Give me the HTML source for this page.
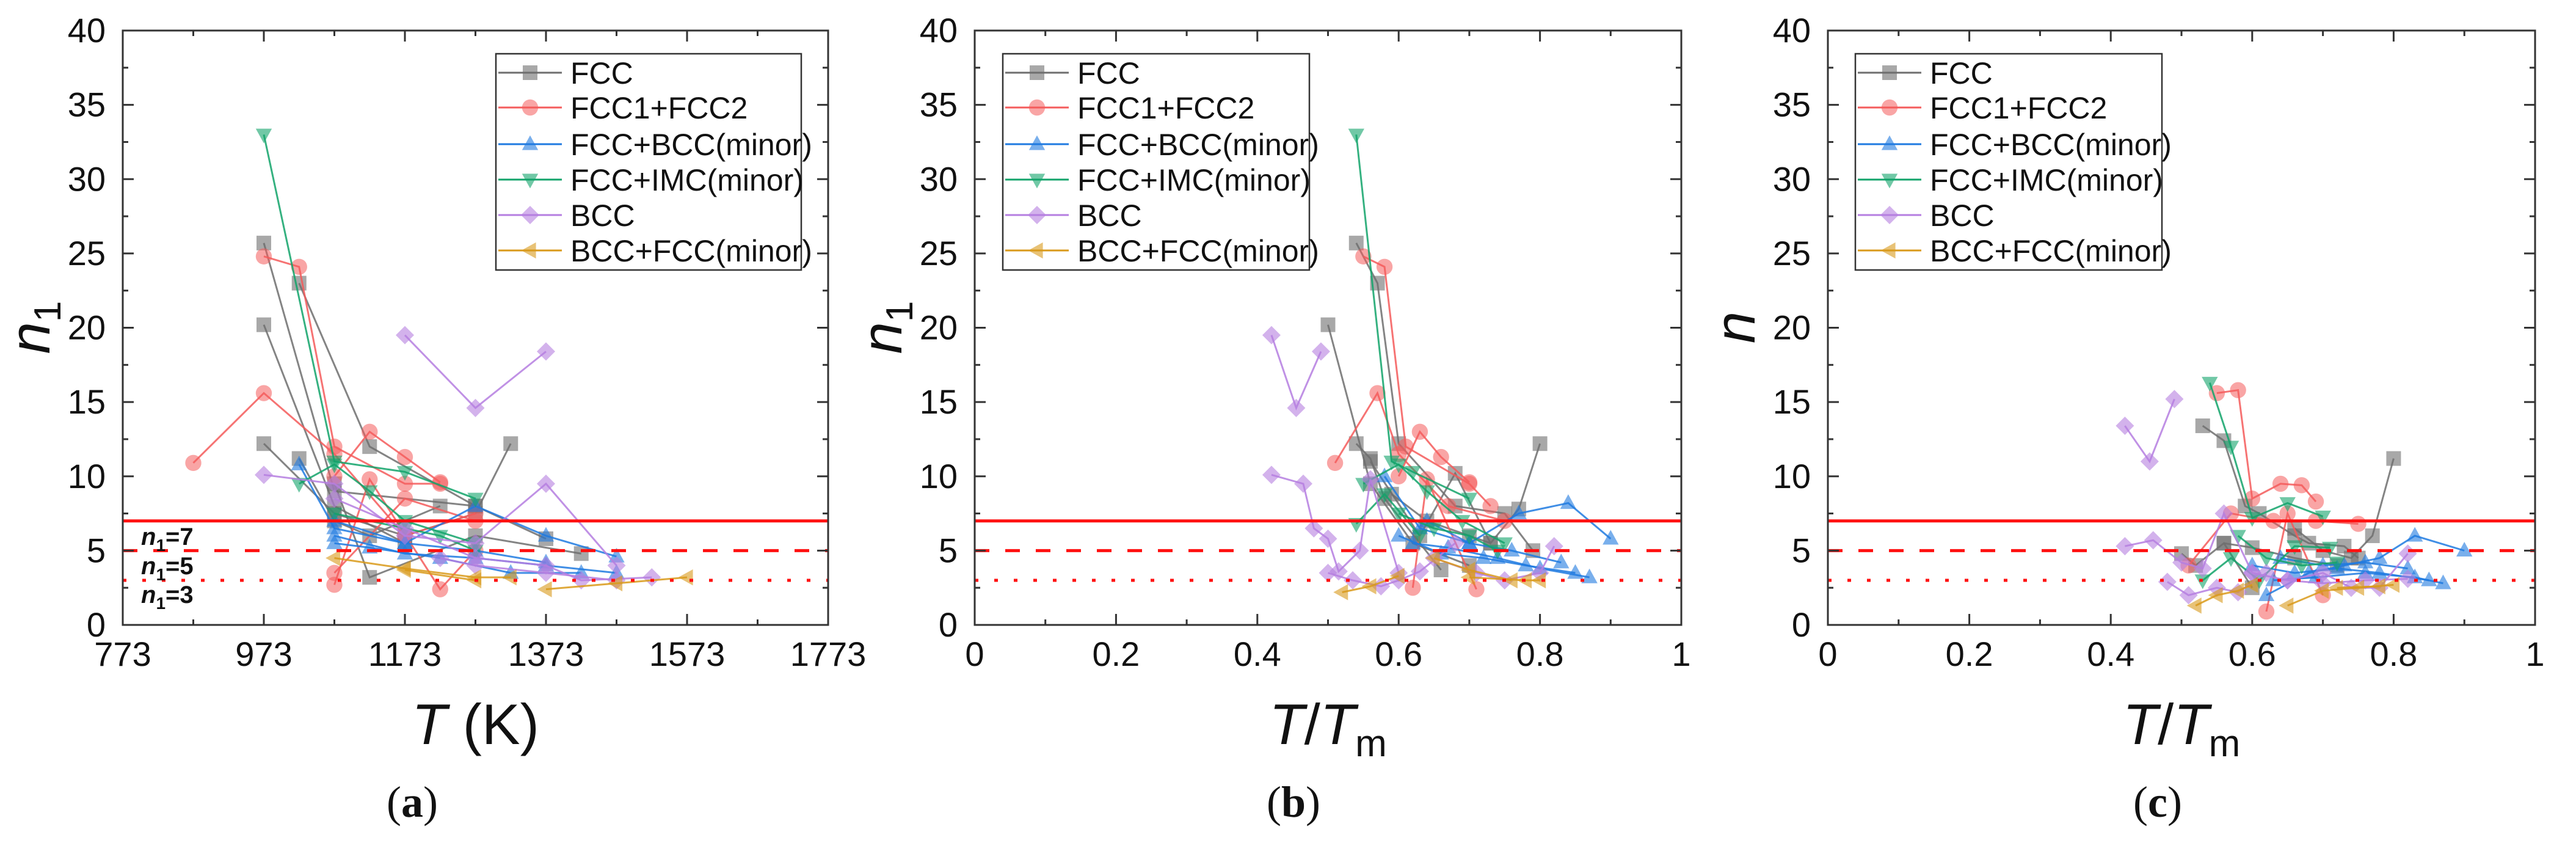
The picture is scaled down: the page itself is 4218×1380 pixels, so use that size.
<!DOCTYPE html>
<html><head><meta charset="utf-8">
<style>
html,body{margin:0;padding:0;background:#fff;}
svg{display:block;font-family:"Liberation Sans",Arial,sans-serif;}
</style></head>
<body>
<svg id="fig" width="4218" height="1380" viewBox="0 0 4218 1380" xmlns="http://www.w3.org/2000/svg"></svg>
<script>
// ---------- data ----------
const classNames = ["FCC","FCC1+FCC2","FCC+BCC(minor)","FCC+IMC(minor)","BCC","BCC+FCC(minor)"];
const classColors = ["#6e6e6e","#f45b5b","#1f7ae0","#12a36a","#b57ee0","#d99a1a"];
const yTicks = [0,5,10,15,20,25,30,35,40];
const xTicksA = [773,973,1173,1373,1573,1773];
const xTicksB = [0,0.2,0.4,0.6,0.8,1];
const xTickLabelsB = ["0","0.2","0.4","0.6","0.8","1"];
const refLevels = [7,5,3];

// panel a: T (K) vs n1
const aClass = [0,0,0,0,0,0, 1,1,1,1,1, 2,2,2,2, 3,3,3, 4,4,4,4, 5,5,5];
const aX = [
 [973,1073,1273],[1023,1123,1273,1373],[973,1073,1173],[973,1073,1173,1273,1323],[1023,1073,1123,1223],[1073,1123,1273,1423],
 [873,973,1073,1173,1273],[973,1023,1073,1173,1223],[1073,1123,1173,1223],[1073,1123,1223,1273],[1073,1173,1273],
 [1023,1073,1173,1273,1373,1473],[1073,1173,1273,1373,1473],[1073,1123,1223,1323,1423],[1073,1173,1273,1373],
 [973,1073,1173,1273],[1023,1073,1123,1173,1273],[1073,1173,1223,1273],
 [1173,1273,1373],[973,1073,1173,1273,1373,1473],[1073,1173,1273,1373,1423,1523],[1223,1273,1373,1473],
 [1073,1173,1273,1323],[1373,1473,1573],[1173,1273]
];
const aY = [
 [25.7,9,8],[23,12,8,5.8],[20.2,8,5.5],[12.2,7.5,6,7.5,12.2],[11.2,7,6,8],[9.5,3.2,6,4.8],
 [10.9,15.6,11.5,6,7.5],[24.8,24.1,12,9.5,9.5],[10,13,11.3,9.6],[2.7,9.8,2.4,5],[3.5,8.5,7],
 [10.8,6.5,5.5,8,6,4.6],[6,4.8,4.5,4,3.5],[5.5,5.2,4.5,3.5,3.5],[7,5.5,5,4.2],
 [33,11,10.3,8.5],[9.5,10.8,9,7,5.5],[7.5,6.5,6,5],
 [19.5,14.6,18.4],[10.1,9.5,6,5.5,9.5,4],[8.5,6.5,4.5,4,3,3.2],[4.5,4,3.5,3],
 [4.5,3.8,3.2,3.2],[2.4,2.8,3.2],[3.7,3]
];
// panel b: T/Tm vs n1
const bClass = [0,0,0,0,0, 1,1,1,1, 2,2,2,2, 3,3,3,3, 4,4,4,4, 5,5,5];
const bX = [
 [0.54,0.57,0.6,0.68,0.75,0.79],[0.5,0.56,0.62,0.7],[0.54,0.56,0.58,0.66],[0.56,0.63,0.68,0.73,0.77,0.8],[0.59,0.64,0.7,0.73],
 [0.51,0.57,0.6,0.67,0.75],[0.55,0.58,0.61,0.7,0.73],[0.6,0.63,0.66,0.7],[0.62,0.64,0.71],
 [0.58,0.63,0.7,0.77,0.84,0.9],[0.6,0.66,0.72,0.78,0.85],[0.62,0.67,0.74,0.8,0.87],[0.64,0.7,0.76,0.83],
 [0.54,0.59,0.62,0.7],[0.55,0.6,0.64,0.69,0.75],[0.6,0.65,0.7,0.74],[0.54,0.58,0.63],
 [0.42,0.455,0.49],[0.42,0.465,0.48,0.5,0.515,0.545,0.56,0.6],[0.5,0.535,0.575,0.6,0.63,0.68],[0.65,0.71,0.75,0.8,0.82],
 [0.52,0.56,0.6],[0.65,0.7,0.76],[0.7,0.78,0.8]
];
const bY = [
 [25.7,23,12.2,8,7.5,5],[20.2,9.5,5.5,4],[12.2,11.2,8.5,3.7],[11,6,10.2,5.5,7.8,12.2],[8.8,7,6,5.5],
 [10.9,15.6,11.5,8,7],[24.8,24.1,12,9.5,8],[10,13,11.3,9.6],[2.5,9.8,2.4],
 [10,6.5,5.5,7.5,8.2,5.8],[6,4.8,4.5,4,3.5],[5.5,5.2,4.5,3.8,3.2],[7,5.5,5,4.2],
 [33,11,10.3,8.5],[9.5,10.8,9,7,5.5],[7.5,6.5,6,5],[6.8,8.8,6],
 [19.5,14.6,18.4],[10.1,9.5,6.5,5.8,3.6,5,9.8,3.5],[3.5,3,2.6,3,3.6,5.5],[4.5,3.5,3,3.5,5.3],
 [2.2,2.6,3.3],[4.5,3.7,3],[3.2,3,3]
];
// panel c: T/Tm vs n
const cClass = [0,0,0,0, 1,1,1, 2,2,2,2, 3,3,3, 4,4,4,4,4, 5,5,5];
const cX = [
 [0.53,0.56,0.59,0.61,0.66,0.68,0.73,0.75],[0.5,0.52,0.56,0.6],[0.66,0.7,0.74,0.77,0.8],[0.56,0.6,0.66,0.72],
 [0.55,0.58,0.6,0.64,0.67,0.69],[0.51,0.57,0.63,0.69,0.75],[0.62,0.65,0.7],
 [0.62,0.68,0.73,0.78,0.83,0.9],[0.6,0.66,0.72,0.78,0.85],[0.63,0.69,0.76,0.83,0.87],[0.64,0.7,0.76,0.82],
 [0.54,0.57,0.6,0.65,0.7],[0.58,0.62,0.67,0.72],[0.53,0.57,0.61,0.66,0.71],
 [0.42,0.455,0.49],[0.42,0.46,0.5,0.53,0.56,0.6],[0.48,0.51,0.55,0.58,0.62],[0.6,0.65,0.7,0.74,0.78,0.82],[0.65,0.7,0.76,0.82],
 [0.52,0.55,0.58,0.6],[0.65,0.7,0.75,0.8],[0.72,0.78]
];
const cY = [
 [13.4,12.4,8,7.5,6,5.5,5.3,4.5],[4.8,4,5.5,2.5],[6.5,5,4.5,6,11.2],[5.5,5.2,4.5,4],
 [15.6,15.8,8.5,9.5,9.4,8.3],[4,7.5,7,7,6.8],[0.9,7.5,2],
 [2,3.5,4,4.5,6,5],[4,3.5,3.8,3.5,3],[3,3.2,3.5,3.2,2.8],[4.5,4,4.2,3.8],
 [16.3,12,7.2,8.2,7.3],[6,4.5,4,4.2],[3,4.5,3,5.3,5.2],
 [13.4,11,15.2],[5.3,5.7,4.2,3.8,7.5,3.5],[2.9,2,2.5,2.2,3.5],[3.5,3,3.5,2.5,2.5,4.8],[3,2.8,3,3.1],
 [1.3,2,2.3,2.7],[1.3,2.3,2.5,2.7],[2.5,2.6]
];

// ---------- drawing ----------
const NS="http://www.w3.org/2000/svg";
const svg=document.getElementById('fig');
function mk(tag,attrs,parent){const e=document.createElementNS(NS,tag);for(const k in attrs)e.setAttribute(k,attrs[k]);(parent||svg).appendChild(e);return e;}
const TOP=50,BOT=1023;

function marker(g,cls,x,y,s){
  const c=classColors[cls];let e;
  if(cls===0)e=mk('rect',{x:x-s,y:y-s,width:2*s,height:2*s,fill:c,'fill-opacity':0.6},g);
  else if(cls===1)e=mk('circle',{cx:x,cy:y,r:s*1.1,fill:c,'fill-opacity':0.55},g);
  else if(cls===2)e=mk('polygon',{points:`${x},${y-s*1.2} ${x+s*1.1},${y+s*0.8} ${x-s*1.1},${y+s*0.8}`,fill:c,'fill-opacity':0.6},g);
  else if(cls===3)e=mk('polygon',{points:`${x},${y+s*1.2} ${x+s*1.1},${y-s*0.8} ${x-s*1.1},${y-s*0.8}`,fill:c,'fill-opacity':0.6},g);
  else if(cls===4)e=mk('polygon',{points:`${x},${y-s*1.25} ${x+s*1.25},${y} ${x},${y+s*1.25} ${x-s*1.25},${y}`,fill:c,'fill-opacity':0.6},g);
  else e=mk('polygon',{points:`${x-s*1.2},${y} ${x+s*0.8},${y-s*1.1} ${x+s*0.8},${y+s*1.1}`,fill:c,'fill-opacity':0.6},g);
  return e;
}

function panel(opt){
  const {id,L,R,xmin,xmax,xt,xtl,xminor,cls,X,Y,legX,legW,yTitleSub,xTitle,caption,capX,annot}=opt;
  const g=mk('g',{});
  
  
  const sx=v=>L+(v-xmin)/(xmax-xmin)*(R-L);
  const sy=v=>BOT-(v/40)*(BOT-TOP);
  const sg=mk('g',{},g);
  
  
  for(let i=0;i<X.length;i++){
    const c=cls[i];
    const pts=X[i].map((v,j)=>sx(v)+','+sy(Y[i][j])).join(' ');
    const pl=mk('polyline',{points:pts,fill:'none',stroke:classColors[c],'stroke-width':3,'stroke-opacity':0.85},sg);
    
    
    for(let j=0;j<X[i].length;j++){
      const m=marker(sg,c,sx(X[i][j]),sy(Y[i][j]),12);
      
      
    }
  }
  const dashes=['none','24 26','6 26'];
  refLevels.forEach((lv,k)=>{
    const l=mk('line',{x1:L,x2:R,y1:sy(lv),y2:sy(lv),stroke:'#ff1010','stroke-width':5,'stroke-dasharray':dashes[k]},g);
    
    
  });
  const fr=mk('rect',{x:L,y:TOP,width:R-L,height:BOT-TOP,fill:'none',stroke:'#333','stroke-width':3},g);
  
  
  yTicks.forEach((v,k)=>{
    const y=sy(v);
    mk('line',{x1:L,x2:L+18,y1:y,y2:y,stroke:'#333','stroke-width':3},g);
    mk('line',{x1:R,x2:R-18,y1:y,y2:y,stroke:'#333','stroke-width':3},g);
    if(k<yTicks.length-1){const ym=sy(v+2.5);
      mk('line',{x1:L,x2:L+9,y1:ym,y2:ym,stroke:'#333','stroke-width':3},g);
      mk('line',{x1:R,x2:R-9,y1:ym,y2:ym,stroke:'#333','stroke-width':3},g);}
    const t=mk('text',{x:L-28,y:y+19,'font-size':56,'text-anchor':'end',fill:'#111'},g);
    t.textContent=v;
    
    
  });
  xt.forEach((v,k)=>{
    const x=sx(v);
    mk('line',{x1:x,x2:x,y1:BOT,y2:BOT-18,stroke:'#333','stroke-width':3},g);
    mk('line',{x1:x,x2:x,y1:TOP,y2:TOP+18,stroke:'#333','stroke-width':3},g);
    if(k<xt.length-1){const xm=sx(v+xminor);
      mk('line',{x1:xm,x2:xm,y1:BOT,y2:BOT-9,stroke:'#333','stroke-width':3},g);
      mk('line',{x1:xm,x2:xm,y1:TOP,y2:TOP+9,stroke:'#333','stroke-width':3},g);}
    const t=mk('text',{x:x,y:BOT+67,'font-size':56,'text-anchor':'middle',fill:'#111'},g);
    t.textContent=xtl[k];
    
    
  });
  const yt=mk('text',{transform:`translate(${L-120},536) rotate(-90)`,'font-size':94,'text-anchor':'middle',fill:'#111'},g);
  yt.innerHTML=yTitleSub?'<tspan font-style="italic">n</tspan><tspan font-size="62" dy="18">1</tspan>':'<tspan font-style="italic">n</tspan>';
  
  
  const xtt=mk('text',{x:(L+R)/2,y:1218,'font-size':94,'text-anchor':'middle',fill:'#111'},g);
  xtt.innerHTML=xTitle;
  
  
  const cp=mk('text',{x:capX,y:1337,'font-size':72,'text-anchor':'middle',fill:'#111','font-family':'"Liberation Serif",serif'},g);
  cp.innerHTML='(<tspan font-weight="bold">'+caption+'</tspan>)';
  
  
  if(annot){
    const ay=[892,940,987];
    refLevels.forEach((lv,k)=>{
      const t=mk('text',{x:L+30,y:ay[k],'font-size':40,'font-weight':'bold',fill:'#111'},g);
      t.innerHTML='<tspan font-style="italic">n</tspan><tspan font-size="28" dy="10">1</tspan><tspan dy="-10">='+lv+'</tspan>';
      
      
    });
  }
  const lg=mk('g',{},g);
  
  
  mk('rect',{x:legX,y:88,width:legW,height:354,fill:'#fff',stroke:'#333','stroke-width':2.5},lg);
  const rows=[119,176,236,294,352,410];
  classNames.forEach((n,k)=>{
    const e=mk('g',{},lg);
    
    
    mk('line',{x1:legX+4,x2:legX+108,y1:rows[k],y2:rows[k],stroke:classColors[k],'stroke-width':3},e);
    marker(e,k,legX+56,rows[k],12);
    const t=mk('text',{x:legX+122,y:rows[k]+18,'font-size':50,fill:'#111'},e);
    t.textContent=n;
  });
}

panel({id:'a',L:201,R:1356,xmin:773,xmax:1773,xt:xTicksA,xtl:xTicksA.map(String),xminor:100,
  cls:aClass,X:aX,Y:aY,legX:812,legW:500,yTitleSub:true,
  xTitle:'<tspan font-style="italic">T</tspan> (K)',caption:'a',capX:675,annot:true});
panel({id:'b',L:1596,R:2753,xmin:0,xmax:1,xt:xTicksB,xtl:xTickLabelsB,xminor:0.1,
  cls:bClass,X:bX,Y:bY,legX:1642,legW:502,yTitleSub:true,
  xTitle:'<tspan font-style="italic">T</tspan>/<tspan font-style="italic">T</tspan><tspan font-size="62" dy="20">m</tspan>',caption:'b',capX:2118,annot:false});
panel({id:'c',L:2993,R:4151,xmin:0,xmax:1,xt:xTicksB,xtl:xTickLabelsB,xminor:0.1,
  cls:cClass,X:cX,Y:cY,legX:3038,legW:502,yTitleSub:false,
  xTitle:'<tspan font-style="italic">T</tspan>/<tspan font-style="italic">T</tspan><tspan font-size="62" dy="20">m</tspan>',caption:'c',capX:3533,annot:false});
</script>
</body></html>
